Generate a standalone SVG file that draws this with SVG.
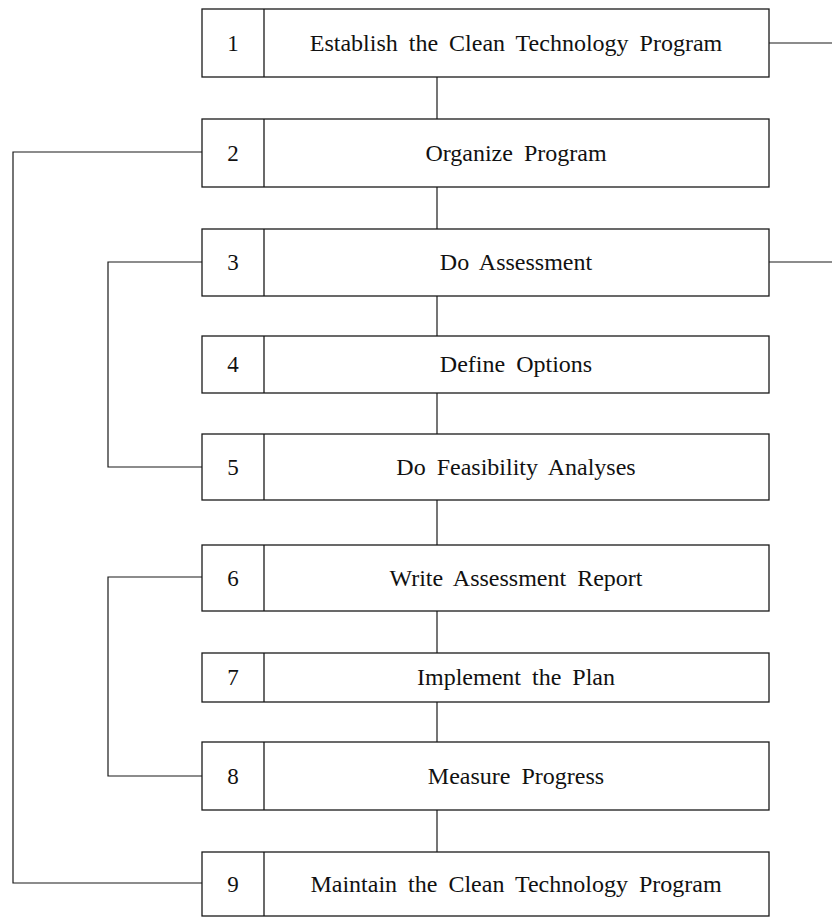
<svg xmlns="http://www.w3.org/2000/svg" width="832" height="918" viewBox="0 0 832 918">
<style>
.box{fill:#fff;stroke:#1a1a1a;stroke-width:1.3}
.div{stroke:#1a1a1a;stroke-width:1.3}
.conn{fill:none;stroke:#1a1a1a;stroke-width:1.2}
.num{font-family:"Liberation Serif","Times New Roman",serif;font-size:23px;fill:#111;text-anchor:middle}
.lbl{font-family:"Liberation Serif","Times New Roman",serif;font-size:24px;fill:#111;text-anchor:middle;word-spacing:5px}
</style>
<rect width="832" height="918" fill="#fff"/>
<g id="connectors">
<line class="conn" x1="437" y1="77" x2="437" y2="119"/>
<line class="conn" x1="437" y1="187" x2="437" y2="229"/>
<line class="conn" x1="437" y1="296" x2="437" y2="336"/>
<line class="conn" x1="437" y1="393" x2="437" y2="434"/>
<line class="conn" x1="437" y1="500" x2="437" y2="545"/>
<line class="conn" x1="437" y1="611" x2="437" y2="653"/>
<line class="conn" x1="437" y1="702" x2="437" y2="742"/>
<line class="conn" x1="437" y1="810" x2="437" y2="852"/>
<line class="conn" x1="769" y1="43" x2="832" y2="43"/>
<line class="conn" x1="769" y1="262" x2="832" y2="262"/>
<polyline class="conn" points="202,152 13,152 13,883 202,883"/>
<polyline class="conn" points="202,262 108,262 108,467 202,467"/>
<polyline class="conn" points="202,577 108,577 108,776 202,776"/>
</g>
<g id="node1"><rect class="box" x="202" y="9" width="567" height="68"/><line class="div" x1="264" y1="9" x2="264" y2="77"/><text class="num" x="233" y="51">1</text><text class="lbl" x="516" y="51">Establish the Clean Technology Program</text></g>
<g id="node2"><rect class="box" x="202" y="119" width="567" height="68"/><line class="div" x1="264" y1="119" x2="264" y2="187"/><text class="num" x="233" y="161">2</text><text class="lbl" x="516" y="161">Organize Program</text></g>
<g id="node3"><rect class="box" x="202" y="229" width="567" height="67"/><line class="div" x1="264" y1="229" x2="264" y2="296"/><text class="num" x="233" y="270">3</text><text class="lbl" x="516" y="270">Do Assessment</text></g>
<g id="node4"><rect class="box" x="202" y="336" width="567" height="57"/><line class="div" x1="264" y1="336" x2="264" y2="393"/><text class="num" x="233" y="372">4</text><text class="lbl" x="516" y="372">Define Options</text></g>
<g id="node5"><rect class="box" x="202" y="434" width="567" height="66"/><line class="div" x1="264" y1="434" x2="264" y2="500"/><text class="num" x="233" y="475">5</text><text class="lbl" x="516" y="475">Do Feasibility Analyses</text></g>
<g id="node6"><rect class="box" x="202" y="545" width="567" height="66"/><line class="div" x1="264" y1="545" x2="264" y2="611"/><text class="num" x="233" y="586">6</text><text class="lbl" x="516" y="586">Write Assessment Report</text></g>
<g id="node7"><rect class="box" x="202" y="653" width="567" height="49"/><line class="div" x1="264" y1="653" x2="264" y2="702"/><text class="num" x="233" y="685">7</text><text class="lbl" x="516" y="685">Implement the Plan</text></g>
<g id="node8"><rect class="box" x="202" y="742" width="567" height="68"/><line class="div" x1="264" y1="742" x2="264" y2="810"/><text class="num" x="233" y="784">8</text><text class="lbl" x="516" y="784">Measure Progress</text></g>
<g id="node9"><rect class="box" x="202" y="852" width="567" height="64"/><line class="div" x1="264" y1="852" x2="264" y2="916"/><text class="num" x="233" y="892">9</text><text class="lbl" x="516" y="892">Maintain the Clean Technology Program</text></g>
</svg>
